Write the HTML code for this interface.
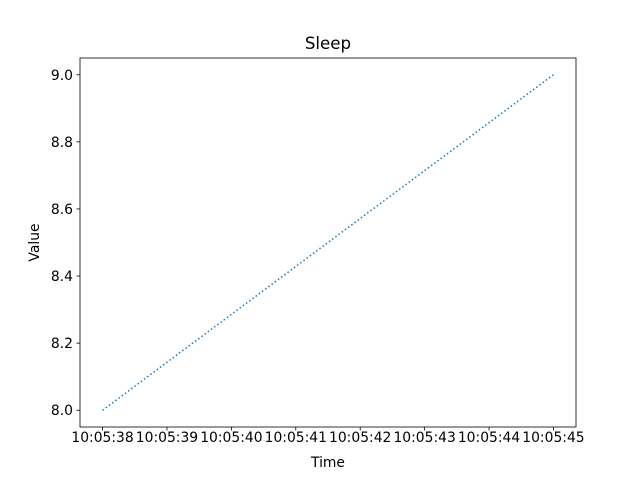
<!DOCTYPE html>
<html><head><meta charset="utf-8"><style>
html,body{margin:0;padding:0;background:#fff;}
svg text{font-family:"DejaVu Sans","Liberation Sans",sans-serif;fill:#000;}
</style></head><body>
<svg id="chart" width="640" height="480" xmlns="http://www.w3.org/2000/svg">
<rect width="640" height="480" fill="#fff"/>
<text x="328" y="49" font-size="16.67" text-anchor="middle">Sleep</text>
<text x="328" y="467" font-size="13.89" text-anchor="middle">Time</text>
<text x="39" y="242.5" font-size="13.89" text-anchor="middle" transform="rotate(-90 39 242.5)">Value</text>
<g id="ticks"></g>
<g id="series"></g>
<rect x="80" y="58" width="496" height="369" fill="none" stroke="#000" stroke-width="0.8"/>
</svg>
<script>
const times = [38, 45];
const values = [8.0, 9.0];
const xTickLabels = ["10:05:38","10:05:39","10:05:40","10:05:41","10:05:42","10:05:43","10:05:44","10:05:45"];
const xTickValues = [38,39,40,41,42,43,44,45];
const yTickValues = [8.0,8.2,8.4,8.6,8.8,9.0];

const L=80,R=576,T=58,B=427;
const xmin=Math.min(...times),xmax=Math.max(...times);
const ymin=Math.min(...values),ymax=Math.max(...values);
const xm=(xmax-xmin)*0.05||0.5, ym=(ymax-ymin)*0.05||0.05;
const x=v=>L+(v-(xmin-xm))/((xmax+xm)-(xmin-xm))*(R-L);
const y=v=>B-(v-(ymin-ym))/((ymax+ym)-(ymin-ym))*(B-T);
const NS="http://www.w3.org/2000/svg";
const tg=document.getElementById('ticks');
function mk(tag,attrs,parent){const e=document.createElementNS(NS,tag);for(const k in attrs)e.setAttribute(k,attrs[k]);parent.appendChild(e);return e;}
xTickValues.forEach((v,i)=>{
  const px=x(v);
  const l=mk('line',{x1:px,x2:px,y1:B,y2:B+3.5,stroke:'#000','stroke-width':0.8},tg);
  
  
  const t=mk('text',{x:px,y:B+15,'font-size':13.89,'text-anchor':'middle'},tg);
  t.textContent=xTickLabels[i];
  
  
});
yTickValues.forEach(v=>{
  const py=y(v);
  const l=mk('line',{x1:L-3.5,x2:L,y1:py,y2:py,stroke:'#000','stroke-width':0.8},tg);
  
  
  const t=mk('text',{x:L-7,y:py+5,'font-size':13.89,'text-anchor':'end'},tg);
  t.textContent=v.toFixed(1);
  
  
});
const pts=times.map((t,i)=>x(t)+','+y(values[i])).join(' ');
const pl=mk('polyline',{points:pts,fill:'none',stroke:'#1f77b4','stroke-width':1.5,'stroke-dasharray':'1.5,2.475'},document.getElementById('series'));


</script>
</body></html>
